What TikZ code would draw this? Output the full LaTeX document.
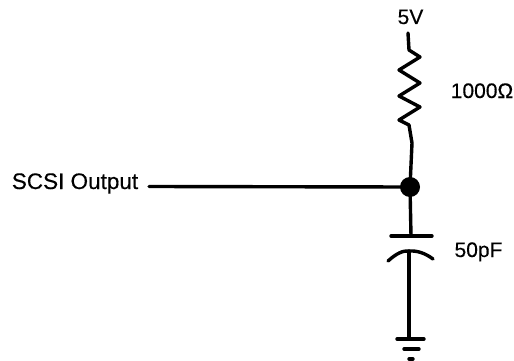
\documentclass[tikz,border=0pt]{standalone}
\usepackage{fontspec}
\setmainfont{Liberation Sans}
\newfontfamily\lblfont[FakeBold=0.35]{Liberation Sans}
\tikzset{
  wire/.style={line width=3.4pt,black,line join=round,line cap=round},
  lbl/.style={inner sep=0pt,anchor=base,font=\lblfont\fontsize{21}{23}\selectfont,text=black},
  junction/.style={circle,fill=black,inner sep=0pt,minimum size=20pt}
}
\begin{document}
\begin{tikzpicture}[x=1pt,y=-1pt]
\useasboundingbox (0,0) rectangle (514,361);
\node[lbl] (vlabel) at (410.5,24) {5V};
\node[lbl] (rlabel) at (482,98) {1000Ω};
\node[lbl] (clabel) at (478.5,257) {50pF};
\node[lbl,font=\lblfont\fontsize{22.5}{24}\selectfont] (slabel) at (75,189) {SCSI Output};
\node[junction] (j) at (410,187) {};
\coordinate (vtop) at (408,33);
\coordinate (wleft) at (149,186.5);
\coordinate (plateup) at (411,236);
\coordinate (platelo) at (409,251);
\coordinate (gnd) at (409,339);
\draw[wire] (vtop) -- (409,50) -- (420,57) -- (399,70) -- (420,83) -- (399,96) -- (420,107) -- (399,120) -- (409,125) -- (412,143) -- (j.center);
\draw[wire] (wleft) -- (j.center);
\draw[wire] (j.center) -- (plateup);
\draw[wire] (391,236) -- (plateup) -- (432,236);
\draw[wire] (388,261) .. controls (397,253) and (403,250.5) .. (platelo) .. controls (417,250.5) and (425,253) .. (433,259);
\draw[wire] (platelo) -- (gnd);
\draw[wire] (397,339) -- (gnd) -- (424,339);
\draw[wire] (404,349) -- (419,349);
\draw[wire] (409,359) -- (413,359);
\end{tikzpicture}
\end{document}
